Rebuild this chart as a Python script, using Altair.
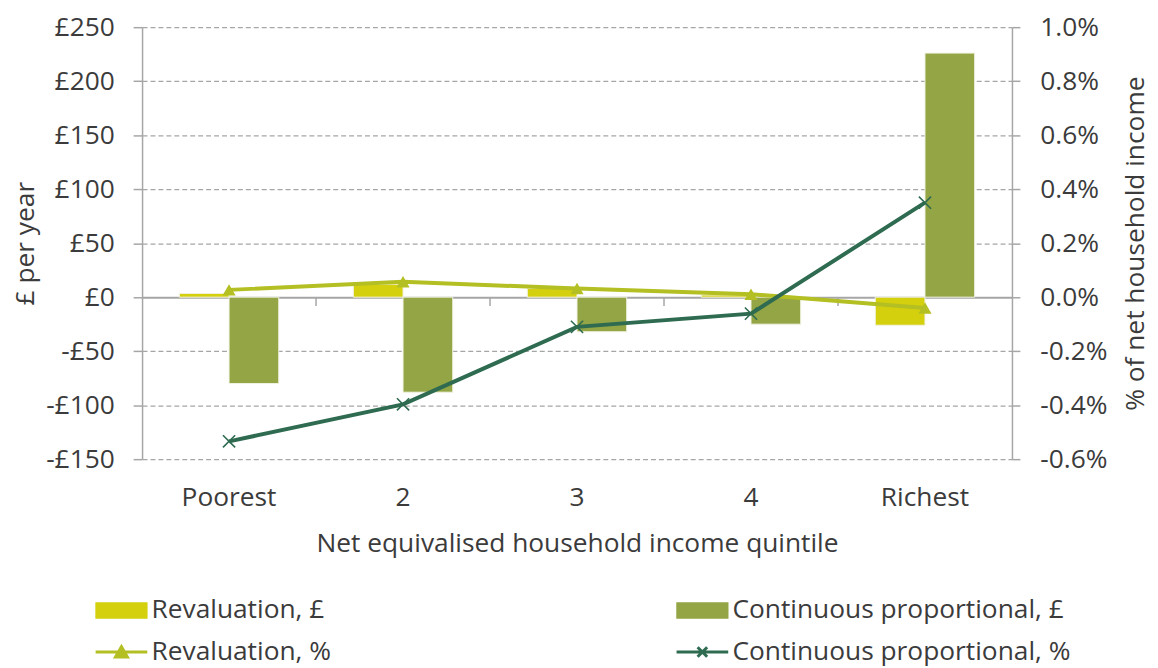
import altair as alt
import pandas as pd

categories = ["Poorest", "2", "3", "4", "Richest"]
reval_gbp = [3.5, 12, 8, 2, -26]
cont_gbp = [-80, -88, -32, -25, 226]
reval_pct = [0.027, 0.057, 0.032, 0.011, -0.04]
cont_pct = [-0.534, -0.397, -0.11, -0.061, 0.35]
boundaries = ["2", "3", "4", "Richest"]

series_names = ["Revaluation, £", "Continuous proportional, £",
                "Revaluation, %", "Continuous proportional, %"]
colors = ["#D4D00E", "#93A544", "#B3BF22", "#2E6B50"]
left_ticks = [-150, -100, -50, 0, 50, 100, 150, 200, 250]
right_ticks = [-0.6, -0.4, -0.2, 0, 0.2, 0.4, 0.6, 0.8, 1.0]

FONT = "Open Sans"
TXT = "#3b3b3b"
GRID = "#a6a6a6"
FS = 26.5

bars_df = pd.DataFrame({
    "cat": categories * 2,
    "series": [series_names[0]] * 5 + [series_names[1]] * 5,
    "value": reval_gbp + cont_gbp,
})
lines_df = pd.DataFrame({
    "cat": categories * 2,
    "series": [series_names[2]] * 5 + [series_names[3]] * 5,
    "value": reval_pct + cont_pct,
})
bound_df = pd.DataFrame({"cat": boundaries, "zero": [0] * len(boundaries)})
leg_df = pd.DataFrame({"series": series_names})

x_axis = alt.Axis(title="Net equivalised household income quintile", labelAngle=0,
                  domain=False, ticks=False, labelPadding=26, titlePadding=19)
x_scale = alt.Scale(paddingInner=0, paddingOuter=0)
x_enc = alt.X("cat:N", sort=categories, scale=x_scale, axis=x_axis)

y_left = alt.Y(
    "value:Q",
    scale=alt.Scale(domain=[-150, 250], nice=False, zero=False),
    axis=alt.Axis(
        values=left_ticks, title="£ per year", orient="left",
        labelExpr="datum.value < 0 ? '-£' + abs(datum.value) : '£' + datum.value",
        grid=True,
        gridDash={"condition": {"test": "datum.value === 0", "value": []}, "value": [5, 3]},
        gridWidth={"condition": {"test": "datum.value === 0", "value": 2}, "value": 1.3},
        gridColor=GRID, domainColor=GRID, domainWidth=1.5, tickColor=GRID,
        tickSize=9, tickWidth=1.5, labelPadding=19, titlePadding=6,
    ),
)

bars = alt.Chart(bars_df).mark_bar(stroke="#f2f3e4", strokeWidth=1).encode(
    x=x_enc,
    xOffset=alt.XOffset("series:N", sort=series_names[:2],
                        scale=alt.Scale(paddingInner=0, paddingOuter=0.75)),
    y=y_left,
    color=alt.Color("series:N", scale=alt.Scale(domain=series_names[:2], range=colors[:2]),
                    legend=None),
)

cat_ticks = alt.Chart(bound_df).mark_rule(color=GRID, strokeWidth=1.5, y2Offset=9).encode(
    x=alt.X("cat:N", sort=categories, bandPosition=0, scale=x_scale, axis=x_axis),
    y=alt.Y("zero:Q"),
    y2=alt.Y2("zero:Q"),
)

leg = alt.Legend(
    title=None, orient="none", legendX=-34, legendY=574,
    direction="horizontal", columns=2, columnPadding=341, rowPadding=15,
    symbolSize=256, symbolStrokeWidth=3, symbolOpacity=1,
    labelFontSize=FS, labelFont=FONT, labelColor=TXT, labelOffset=17,
    labelLimit=500, padding=0,
)
paths = [
    "M-3.1,-0.85H3.1V0.85H-3.1Z",
    "M-3.1,-0.85H3.1V0.85H-3.1Z",
    "M-3.25,0H3.25M-0.75,0.62L0,-0.68L0.75,0.62Z",
    "M-3.25,0H3.25M-0.6,-0.6L0.6,0.6M-0.6,0.6L0.6,-0.6",
]
legend_layer = alt.Chart(leg_df).mark_point(filled=True, opacity=0).encode(
    fill=alt.Fill("series:N", sort=series_names,
                  scale=alt.Scale(domain=series_names, range=colors), legend=leg),
    stroke=alt.Stroke("series:N", sort=series_names,
                      scale=alt.Scale(domain=series_names, range=colors), legend=leg),
    shape=alt.Shape("series:N", sort=series_names,
                    scale=alt.Scale(domain=series_names, range=paths), legend=leg),
)

left = alt.layer(bars, cat_ticks, legend_layer)

y_right = alt.Y(
    "value:Q",
    scale=alt.Scale(domain=[-0.6, 1.0], nice=False, zero=False),
    axis=alt.Axis(
        values=right_ticks, title="% of net household income", orient="right",
        labelExpr="(datum.value < 0 ? '-' : '') + format(abs(datum.value), '.1f') + '%'",
        grid=False, domainColor=GRID, domainWidth=1.5, tickColor=GRID,
        tickSize=8, tickWidth=1.5, labelPadding=20, titlePadding=16,
        titleAngle=270, titleBaseline="top",
    ),
)


def series_layers(name, color, shape, size, filled, sw):
    base = alt.Chart(lines_df).transform_filter(alt.datum.series == name)
    ln = base.mark_line(strokeWidth=4, color=color).encode(x=x_enc, y=y_right)
    pt = base.mark_point(shape=shape, filled=filled, size=size, opacity=1,
                         strokeWidth=sw, color=color).encode(x=x_enc, y=y_right)
    return [ln, pt]


right = alt.layer(
    *series_layers(series_names[2], colors[2], "triangle-up", 175, True, 1),
    *series_layers(series_names[3], colors[3], "M-1,-1L1,1M-1,1L1,-1", 150, False, 1.6),
)

chart = alt.layer(left, right).resolve_scale(y="independent").properties(
    width=876, height=435, padding={"top": 4, "left": 4, "right": 0, "bottom": 0}
).configure_axis(
    labelFont=FONT, titleFont=FONT, labelFontSize=FS, titleFontSize=FS,
    labelColor=TXT, titleColor=TXT, titleFontWeight="normal",
).configure_view(stroke=None)

chart.save("out.html", embed_options={"renderer": "svg", "actions": False})
